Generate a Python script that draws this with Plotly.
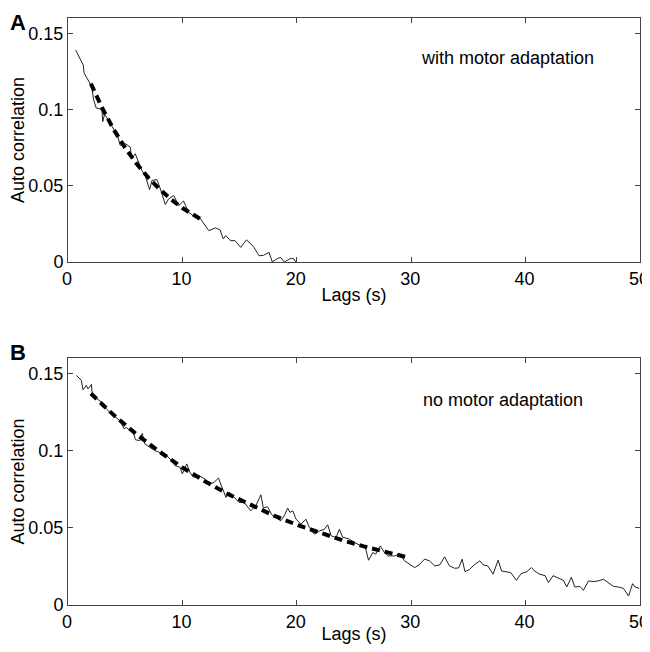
import plotly.graph_objects as go
from plotly.subplots import make_subplots

# Panel A: with motor adaptation (measured autocorrelation)
a_lag = [0.67, 1.34, 1.4, 1.78, 2.08, 2.22, 2.46, 2.96, 3.04, 3.2, 3.62, 4.12, 4.33, 4.56, 5.0,
         5.44, 5.58, 5.88, 6.02, 6.46, 6.75, 7.13, 7.34, 7.78, 8.07, 8.51, 8.8, 9.24, 9.68,
         10.1, 10.55, 11.0, 11.58, 12.0, 12.3, 12.9, 13.3, 13.57, 13.8, 14.2, 14.6, 15.1,
         15.3, 15.6, 16.0, 16.25, 16.7, 17.1, 17.57, 17.87, 18.3, 18.6, 18.9, 19.2, 19.5,
         19.76, 19.9]
a_acf = [0.139, 0.129, 0.124, 0.119, 0.115, 0.107, 0.101, 0.100, 0.092, 0.097, 0.092, 0.086,
         0.083, 0.0765, 0.0776, 0.0754, 0.0678, 0.071, 0.068, 0.060, 0.0568, 0.0474, 0.0535,
         0.054, 0.048, 0.0377, 0.0414, 0.0436, 0.037, 0.040, 0.0326, 0.030, 0.0283, 0.0239,
         0.0206, 0.0224, 0.021, 0.0151, 0.0173, 0.014, 0.014, 0.0096, 0.0118, 0.0145, 0.0118,
         0.0096, 0.0041, 0.0044, 0.0063, 0.0, 0.0023, 0.003, 0.0, 0.0015, 0.0025, 0.002, 0.0]
# Panel A fitted curve
a_fit_lag = [2, 3, 4, 5, 6, 7, 8, 9, 10, 11, 11.9]
a_fit_acf = [0.117, 0.1008, 0.0868, 0.0748, 0.0644, 0.0555, 0.0478, 0.0411, 0.0354, 0.0305, 0.0267]

# Panel B: no motor adaptation
b_lag = [0.74, 1.17, 1.31, 1.6, 1.75, 2.05, 2.1, 2.34, 2.93, 3.36, 3.8, 4.09, 4.53, 4.91, 5.1,
         5.41, 5.7, 5.9, 6.28, 6.49, 6.72, 7.16, 7.6, 8.05, 8.35, 8.5, 8.91, 9.35, 9.79, 9.99,
         10.38, 10.67, 10.96, 11.4, 11.98, 12.33, 12.77, 13.15, 13.5, 13.8, 14.1, 14.52, 14.96,
         15.4, 15.98, 16.42, 16.65, 16.86, 17.07, 17.45, 17.82, 18.3, 18.6, 18.9, 19.2, 19.4,
         19.65, 19.93, 20.37, 20.8, 21.1, 21.53, 22.0, 22.4, 22.7, 23.0, 23.43, 23.72, 24.0,
         24.6, 25.04, 25.63, 26.0, 26.27, 26.65, 26.9, 27.3, 27.65, 27.96, 28.55, 28.97, 29.42,
         29.85, 30.3, 30.7, 31.17, 31.6, 32.05, 32.5, 32.92, 33.35, 33.8, 34.15, 34.45, 34.7,
         35.1, 35.5, 36.0, 36.3, 36.7, 37.16, 37.6, 37.9, 38.3, 38.7, 39.2, 39.6, 40.1, 40.5,
         40.8, 41.2, 41.7, 42.0, 42.4, 42.85, 43.3, 43.6, 44.0, 44.3, 44.75, 45.05, 45.5, 45.9,
         46.35, 46.8, 47.25, 47.7, 48.1, 48.55, 49.0, 49.35, 49.56, 49.93]
b_acf = [0.1487, 0.1455, 0.1394, 0.1422, 0.140, 0.1429, 0.138, 0.1346, 0.1314, 0.127, 0.1238,
         0.122, 0.1195, 0.1141, 0.115, 0.113, 0.112, 0.107, 0.1065, 0.1112, 0.1043, 0.1021,
         0.100, 0.0987, 0.0966, 0.0977, 0.0946, 0.0903, 0.0892, 0.0849, 0.0914, 0.0857, 0.0827,
         0.084, 0.0816, 0.0784, 0.0794, 0.0823, 0.0751, 0.0697, 0.073, 0.0697, 0.0664, 0.0664,
         0.061, 0.0643, 0.0675, 0.0714, 0.063, 0.0636, 0.0584, 0.056, 0.0545, 0.0577, 0.0628,
         0.060, 0.061, 0.0556, 0.0524, 0.0556, 0.0502, 0.0459, 0.048, 0.049, 0.052, 0.0448,
         0.0437, 0.0491, 0.044, 0.0427, 0.0405, 0.0383, 0.037, 0.029, 0.034, 0.033, 0.0383,
         0.034, 0.0318, 0.0318, 0.033, 0.0286, 0.0264, 0.0242, 0.026, 0.0297, 0.0286, 0.0253,
         0.026, 0.0312, 0.0253, 0.0238, 0.024, 0.0297, 0.0216, 0.023, 0.026, 0.0286, 0.026,
         0.0253, 0.020, 0.029, 0.022, 0.0216, 0.021, 0.016, 0.0203, 0.0216, 0.0242, 0.022,
         0.020, 0.019, 0.0145, 0.019, 0.0175, 0.016, 0.0117, 0.018, 0.0117, 0.012, 0.0095,
         0.0156, 0.0152, 0.0156, 0.0167, 0.0145, 0.012, 0.0117, 0.0108, 0.0058, 0.0138, 0.0117,
         0.0108]
b_fit_lag = [2, 4, 6, 8, 10, 12, 14, 16, 18, 20, 22, 24, 26, 28, 29.5]
b_fit_acf = [0.137, 0.123, 0.1105, 0.0993, 0.0891, 0.080, 0.0718, 0.0645, 0.0579, 0.052,
             0.0467, 0.0419, 0.0377, 0.0338, 0.0312]

x_ticks = [0, 10, 20, 30, 40, 50]
y_ticks = [0, 0.05, 0.1, 0.15]
y_tick_text = ["0", "0.05", "0.1", "0.15"]

FONT = "Liberation Sans, Arial, sans-serif"
FS = 18
# the page body adds an 8px offset, so the figure is sized to fit the rest of the window
W, H = 642, 636
ml, mr, mt, mb = 60, 10, 10, 39
pw = W - ml - mr
ph = H - mt - mb

fig = make_subplots(rows=2, cols=1)

for r, (lx, ly, fx, fy) in enumerate([(a_lag, a_acf, a_fit_lag, a_fit_acf),
                                      (b_lag, b_acf, b_fit_lag, b_fit_acf)], start=1):
    fig.add_trace(go.Scatter(x=lx, y=ly, mode="lines", line=dict(color="#222222", width=1),
                             showlegend=False, hoverinfo="skip"), row=r, col=1)
    fig.add_trace(go.Scatter(x=fx, y=fy, mode="lines",
                             line=dict(color="black", width=4, dash="8px,5px"),
                             showlegend=False, hoverinfo="skip"), row=r, col=1)

axis_common = dict(showline=True, linecolor="#444444", linewidth=1, mirror="ticks",
                   ticks="inside", ticklen=5, tickcolor="#444444", showgrid=False,
                   zeroline=False, automargin=False, ticklabeloverflow="allow",
                   tickfont=dict(family=FONT, size=FS, color="black"))

# panel A plot area: fig y 10..254 ; panel B: fig y 350..597
a_bottom = (H - mb - 254) / ph
b_top = (H - mb - 350) / ph

fig.update_xaxes(range=[0, 50], tickvals=x_ticks, ticklabelshift=-1, **axis_common)
fig.update_yaxes(range=[0, 0.16], tickvals=y_ticks, ticktext=y_tick_text, **axis_common)
fig.update_xaxes(title=dict(text="Lags (s)", font=dict(family=FONT, size=FS, color="black"),
                            standoff=0))
fig.update_yaxes(title=dict(text="Auto correlation",
                            font=dict(family=FONT, size=FS, color="black"), standoff=6))
fig.update_layout(yaxis=dict(domain=[a_bottom, 1.0]), yaxis2=dict(domain=[0, b_top]))

fig.add_annotation(text="with motor adaptation", xref="x", yref="y", x=38.4, y=0.134,
                   showarrow=False, font=dict(family=FONT, size=FS, color="black"))
fig.add_annotation(text="no motor adaptation", xref="x2", yref="y2", x=38.0, y=0.1325,
                   showarrow=False, font=dict(family=FONT, size=FS, color="black"))
fig.add_annotation(text="<b>A</b>", xref="paper", yref="paper", x=-ml / pw,
                   y=1.0 + mt / ph, xanchor="left", yanchor="top", showarrow=False,
                   font=dict(family=FONT, size=22, color="black"))
fig.add_annotation(text="<b>B</b>", xref="paper", yref="paper", x=-ml / pw,
                   y=b_top + 6 / ph, xanchor="left", yanchor="middle", showarrow=False,
                   font=dict(family=FONT, size=22, color="black"))

fig.update_layout(width=W, height=H, margin=dict(l=ml, r=mr, t=mt, b=mb),
                  plot_bgcolor="white", paper_bgcolor="white",
                  font=dict(family=FONT, size=FS, color="black"))

fig.write_html("out.html")
